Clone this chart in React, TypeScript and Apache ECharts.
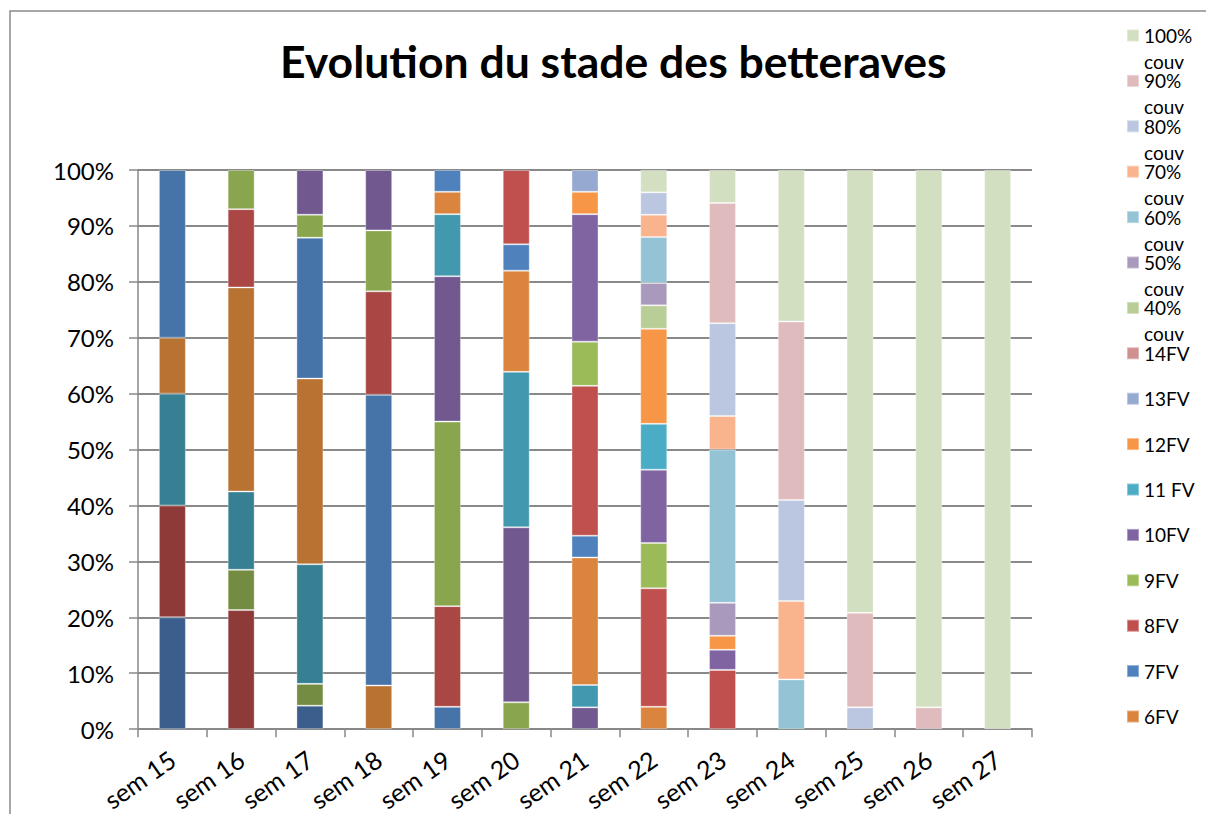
import React, { useEffect, useRef } from "react";
import * as echarts from "echarts";

const weeks = ["sem 15", "sem 16", "sem 17", "sem 18", "sem 19", "sem 20", "sem 21", "sem 22", "sem 23", "sem 24", "sem 25", "sem 26", "sem 27"];

// early stages (not shown in the truncated legend)
const semis =       [20, 0, 4.2, 0, 0, 0, 0, 0, 0, 0, 0, 0, 0];
const germination = [20, 21.3, 0, 0, 0, 0, 0, 0, 0, 0, 0, 0, 0];
const crosse =      [0, 7.2, 3.9, 0, 0, 0, 0, 0, 0, 0, 0, 0, 0];
const levee =       [20, 14, 21.4, 0, 0, 0, 0, 0, 0, 0, 0, 0, 0];
const cotyledons =  [10, 36.5, 33.2, 7.8, 0, 0, 0, 0, 0, 0, 0, 0, 0];
const fv1 =         [30, 0, 25.2, 52, 4, 0, 0, 0, 0, 0, 0, 0, 0];
const fv2 =         [0, 14, 0, 18.5, 18, 0, 0, 0, 0, 0, 0, 0, 0];
const fv3 =         [0, 7, 4.1, 10.9, 33, 4.8, 0, 0, 0, 0, 0, 0, 0];
const fv4 =         [0, 0, 8, 10.8, 26, 31.3, 3.9, 0, 0, 0, 0, 0, 0];
const fv5 =         [0, 0, 0, 0, 11.1, 27.8, 4, 0, 0, 0, 0, 0, 0];
// legend stages
const fv6 =   [0, 0, 0, 0, 4, 18.1, 22.8, 4, 0, 0, 0, 0, 0];
const fv7 =   [0, 0, 0, 0, 3.9, 4.7, 3.9, 0, 0, 0, 0, 0, 0];
const fv8 =   [0, 0, 0, 0, 0, 13.3, 26.8, 21.2, 10.6, 0, 0, 0, 0];
const fv9 =   [0, 0, 0, 0, 0, 0, 7.9, 8.1, 0, 0, 0, 0, 0];
const fv10 =  [0, 0, 0, 0, 0, 0, 22.8, 13.1, 3.6, 0, 0, 0, 0];
const fv11 =  [0, 0, 0, 0, 0, 0, 0, 8.2, 0, 0, 0, 0, 0];
const fv12 =  [0, 0, 0, 0, 0, 0, 4, 17, 2.5, 0, 0, 0, 0];
const fv13 =  [0, 0, 0, 0, 0, 0, 3.9, 0, 0, 0, 0, 0, 0];
const fv14 =  [0, 0, 0, 0, 0, 0, 0, 0, 0, 0, 0, 0, 0];
const couv40 =  [0, 0, 0, 0, 0, 0, 0, 4.2, 0, 0, 0, 0, 0];
const couv50 =  [0, 0, 0, 0, 0, 0, 0, 4, 5.9, 0, 0, 0, 0];
const couv60 =  [0, 0, 0, 0, 0, 0, 0, 8.2, 27.4, 8.9, 0, 0, 0];
const couv70 =  [0, 0, 0, 0, 0, 0, 0, 4, 6, 14, 0, 0, 0];
const couv80 =  [0, 0, 0, 0, 0, 0, 0, 4, 16.6, 18.1, 3.9, 0, 0];
const couv90 =  [0, 0, 0, 0, 0, 0, 0, 0, 21.5, 31.9, 16.9, 3.9, 0];
const couv100 = [0, 0, 0, 0, 0, 0, 0, 4, 5.9, 27.1, 79.2, 96.1, 100];

const seriesNames = [
  "semis", "germination", "crosse", "levée", "cotylédons", "1FV", "2FV", "3FV", "4FV", "5FV",
  "6FV", "7FV", "8FV", "9FV", "10FV", "11 FV", "12FV", "13FV", "14FV",
  "40% couv", "50% couv", "60% couv", "70% couv", "80% couv", "90% couv", "100% couv",
];
const seriesValues = [
  semis, germination, crosse, levee, cotyledons, fv1, fv2, fv3, fv4, fv5,
  fv6, fv7, fv8, fv9, fv10, fv11, fv12, fv13, fv14,
  couv40, couv50, couv60, couv70, couv80, couv90, couv100,
];
const seriesColors = [
  "#3B5E8C", "#8E3A38", "#748C41", "#378093", "#B87232", "#4674A8", "#AA4644", "#89A54E", "#71588F", "#4198AF",
  "#DB843D", "#4F81BD", "#C0504D", "#9BBB59", "#8064A2", "#4BACC6", "#F79646", "#95A9D1", "#D19090",
  "#B9CD96", "#A99ABD", "#93C3D5", "#F9B48E", "#BBC6E0", "#E0BBBD", "#D2DFC0",
];
const legendNames = [
  "100% couv", "90% couv", "80% couv", "70% couv", "60% couv", "50% couv", "40% couv",
  "14FV", "13FV", "12FV", "11 FV", "10FV", "9FV", "8FV", "7FV", "6FV",
];
const yTicks = { min: 0, max: 100, step: 10 };
const title = "Evolution du stade des betteraves";

const FONT = "Lato, 'Open Sans', sans-serif";
const GRID = "#898989";

export default function App() {
  const ref = useRef<HTMLDivElement>(null);
  useEffect(() => {
    if (!ref.current) return;
    const chart = echarts.init(ref.current, undefined, { renderer: "svg" });
    chart.setOption({
      animation: false,
      backgroundColor: "#ffffff",
      title: {
        text: title,
        left: 275,
        top: 33,
        textStyle: { fontFamily: FONT, fontWeight: "bold", fontSize: 44.5, color: "#000" },
      },
      graphic: [
        {
          type: "rect",
          shape: { x: 10, y: 11, width: 1400, height: 1000 },
          style: { fill: "none", stroke: "#8a8a8a", lineWidth: 1.5 },
          silent: true,
        },
      ],
      legend: {
        orient: "vertical",
        left: 1121,
        top: -5,
        data: legendNames,
        itemWidth: 12,
        itemHeight: 12,
        itemGap: -25.6,
        icon: "rect",
        selectedMode: false,
        formatter: (name: string) => {
          if (name.indexOf("couv") >= 0) {
            return "\n\n" + name.replace(" couv", "") + "\n\ncouv";
          }
          return "\n\n" + name + "\n\n";
        },
        textStyle: { fontFamily: FONT, fontSize: 19, color: "#000", lineHeight: 13 },
      },
      grid: { left: 138, right: 174, top: 170, bottom: 83, containLabel: false },
      xAxis: {
        type: "category",
        data: weeks,
        axisLine: { show: true, lineStyle: { color: GRID, width: 1.5 } },
        axisTick: { show: true, length: 8, lineStyle: { color: GRID, width: 1.5 } },
        axisLabel: { rotate: 35, margin: 27, fontFamily: FONT, fontSize: 25, color: "#000" },
      },
      yAxis: {
        type: "value",
        min: yTicks.min,
        max: yTicks.max,
        interval: yTicks.step,
        axisLine: { show: true, lineStyle: { color: GRID, width: 1.5 } },
        axisTick: { show: true, length: 9, lineStyle: { color: GRID, width: 1.5 } },
        splitLine: { show: true, lineStyle: { color: GRID, width: 2 } },
        axisLabel: { formatter: "{value}%", margin: 24, fontFamily: FONT, fontSize: 24, color: "#000" },
      },
      series: seriesNames.map((name, i) => ({
        name,
        type: "bar",
        stack: "total",
        barWidth: 27,
        data: seriesValues[i].map((v) => (v === 0 ? null : v)),
        itemStyle: { color: seriesColors[i], borderColor: "rgba(255,255,255,0.35)", borderWidth: 1 },
      })),
    });
    return () => chart.dispose();
  }, []);
  return (
    <div
      ref={ref}
      style={{ position: "absolute", left: 0, top: 0, width: 1206, height: 814 }}
    />
  );
}
